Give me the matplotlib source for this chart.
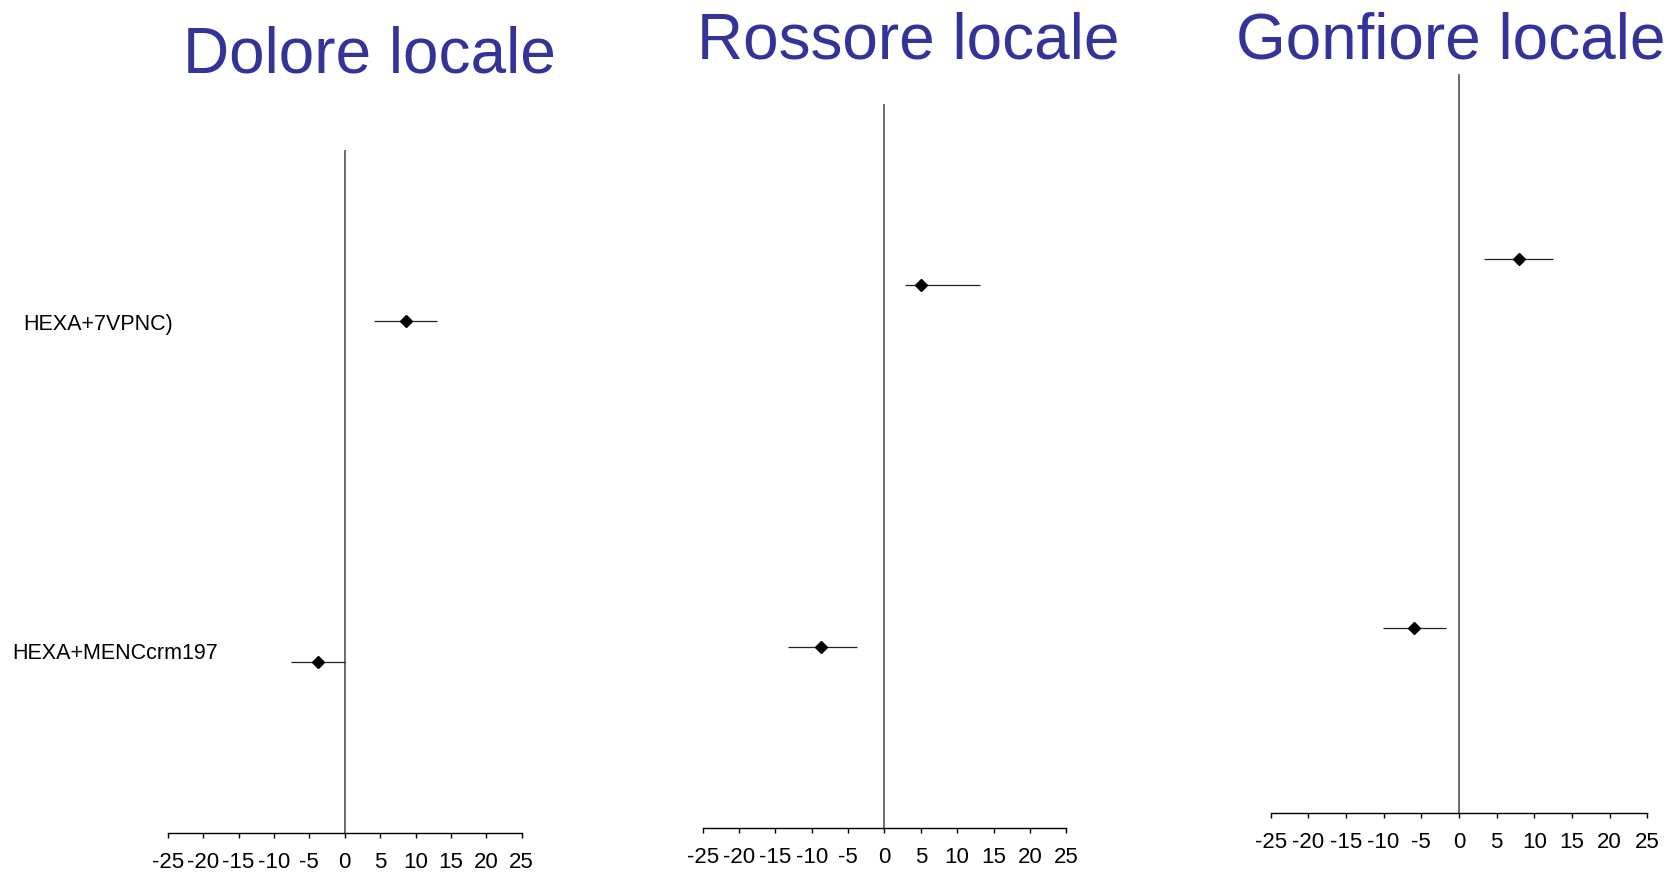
import numpy as np
import matplotlib
matplotlib.use("Agg")
import matplotlib.pyplot as plt
import matplotlib.transforms as mtransforms

plt.rcParams['font.family'] = ['Liberation Sans', 'DejaVu Sans']

# dati (differenza %, IC 95%)
gruppi = ["HEXA+7VPNC)", "HEXA+MENCcrm197"]
titoli = ["Dolore locale", "Rossore locale", "Gonfiore locale"]

dolore_stima = [8.7, -3.8]
dolore_inf = [4.2, -7.6]
dolore_sup = [13.0, 0.0]

rossore_stima = [5.0, -8.7]
rossore_inf = [2.8, -13.2]
rossore_sup = [13.2, -3.8]

gonfiore_stima = [8.0, -6.0]
gonfiore_inf = [3.3, -10.1]
gonfiore_sup = [12.5, -1.7]

tick_x = [-25, -20, -15, -10, -5, 0, 5, 10, 15, 20, 25]

pannelli = [
    (dolore_stima, dolore_inf, dolore_sup),
    (rossore_stima, rossore_inf, rossore_sup),
    (gonfiore_stima, gonfiore_inf, gonfiore_sup),
]

# posizioni degli assi (frazioni della figura)
posizioni = [
    [0.1000, 0.0491, 0.2111, 0.7797],
    [0.4190, 0.0548, 0.2168, 0.8265],
    [0.7577, 0.0721, 0.2245, 0.8436],
]
titolo_xy = [(0.2203, 0.917), (0.5418, 0.933), (0.8650, 0.933)]
blu = '#333399'

fig = plt.figure(figsize=(16.77, 8.76), dpi=100)
y_pos = [2, 1]

for i, (stima, inf, sup) in enumerate(pannelli):
    ax = fig.add_axes(posizioni[i])
    ax.set_xlim(-25, 25)
    ax.set_ylim(0.5, 2.5)
    for s in ['top', 'right', 'left']:
        ax.spines[s].set_visible(False)
    ax.spines['bottom'].set_linewidth(1.0)
    ax.axvline(0, color='#444444', lw=1.1)
    ax.hlines(y_pos, inf, sup, color='#222222', lw=0.9)
    ax.plot(stima, y_pos, 'D', color='black', ms=6.5, ls='none')
    ax.set_yticks([])
    ax.set_xticks(tick_x)
    ax.set_xticklabels([str(t) for t in tick_x], fontsize=16)
    ax.tick_params(axis='x', direction='out', length=3.5, width=1.0, pad=10)
    fig.text(titolo_xy[i][0], titolo_xy[i][1], titoli[i], fontsize=46,
             color=blu, ha='center', va='baseline')
    if i == 0:
        trans = mtransforms.blended_transform_factory(fig.transFigure, ax.transData)
        ax.text(0.014, y_pos[0] - 0.012, gruppi[0], transform=trans,
                fontsize=15.5, ha='left', va='center')
        ax.text(0.0076, y_pos[1] + 0.025, gruppi[1], transform=trans,
                fontsize=15.5, ha='left', va='center')

fig.savefig("out.png", dpi=100)
